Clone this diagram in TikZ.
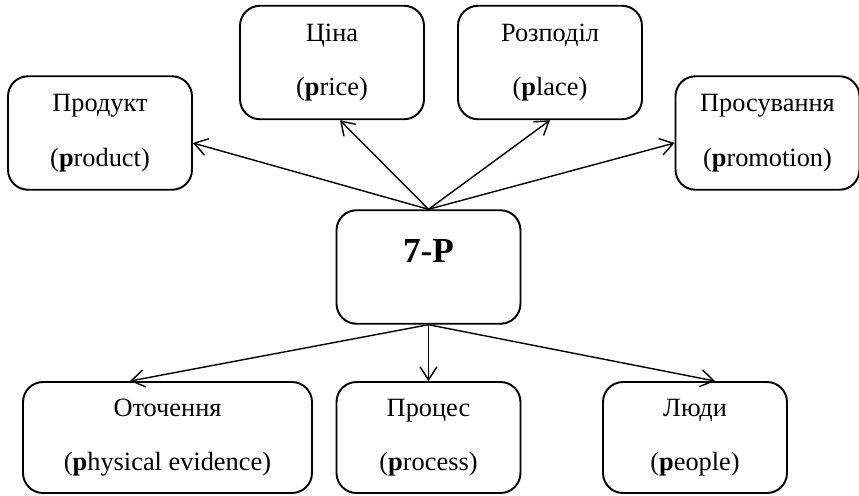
\documentclass[tikz,border=0pt]{standalone}
\usepackage{fontspec}
\setmainfont{Liberation Serif}
\usetikzlibrary{arrows.meta,positioning}

\tikzset{pbox/.style={draw,line width=1.1pt,rounded corners=0.4cm,
    align=center,minimum width=3.68cm,minimum height=2.27cm,
    font=\fontsize{15}{18}\selectfont}}
\newcommand{\twoline}[2]{#1\\[13pt]#2}

\begin{document}
\begin{tikzpicture}[->,>={Straight Barb[length=2.6mm,width=3.4mm]},x=0.02cm,y=-0.02cm,line width=0.8pt]
    \useasboundingbox (0,0) rectangle (859,495);
    \node[pbox,font=\fontsize{20}{24}\selectfont\bfseries] (core) at (428.5,267) {\raisebox{0.66cm}{7-P}};
    \node[pbox] (prod) at (100,133) {\twoline{Продукт}{(\textbf{p}roduct)}};
    \node[pbox] (price) at (332,62.5) {\twoline{Ціна}{(\textbf{p}rice)}};
    \node[pbox] (place) at (550,62.5) {\twoline{Розподіл}{(\textbf{p}lace)}};
    \node[pbox] (promo) at (767.5,133) {\twoline{Просування}{(\textbf{p}romotion)}};
    \node[pbox,minimum width=5.78cm,minimum height=2.22cm] (env) at (167.5,437.5)
      {\twoline{Оточення}{(\textbf{p}hysical evidence)}};
    \node[pbox,minimum height=2.22cm] (proc) at (428.5,437.5) {\twoline{Процес}{(\textbf{p}rocess)}};
    \node[pbox,minimum height=2.22cm] (people) at (695,437.5) {\twoline{Люди}{(\textbf{p}eople)}};
    \path (core.north) edge ([yshift=-0.2cm]prod.east)
    edge ([xshift=0.16cm]price.south)
    edge (place.south)
    edge ([yshift=-0.2cm]promo.west)
    (core.south)
    edge ([xshift=-0.75cm]env.north)
    edge (proc.north)
    edge ([xshift=0.4cm]people.north);
  \end{tikzpicture}
\end{document}
